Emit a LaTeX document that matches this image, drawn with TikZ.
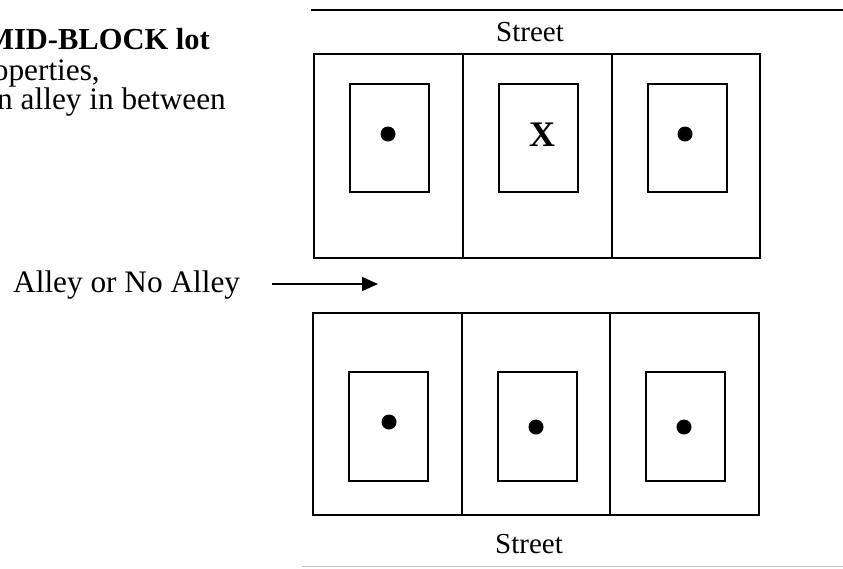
\documentclass[tikz,border=0pt]{standalone}
\usepackage{fontspec}
\setmainfont{Liberation Serif}
\usetikzlibrary{arrows.meta}
\begin{document}
\begin{tikzpicture}[x=1pt,y=-1pt,
  lot/.style={draw=black,line width=1.8pt},
  house/.style={draw=black,line width=1.5pt},
  pin/.style={fill=black},
  big/.style={font=\fontsize{31.3}{36}\selectfont},
  street/.style={font=\fontsize{29}{34}\selectfont}]
\useasboundingbox (0,0) rectangle (843,568);
% side text
\node[anchor=base east,font=\fontsize{30.5}{36}\selectfont\bfseries,inner sep=0] (t1) at (210,49) {MID-BLOCK lot};
\node[big,anchor=base east,inner sep=0] (t2) at (100,80) {properties,};
\node[big,anchor=base east,inner sep=0] (t3) at (226,109) {an alley in between};
% streets
\draw[line width=1.8pt] (311,10) -- (843,10);
\node[street,anchor=base,inner sep=0] (s1) at (530,41) {Street};
\draw[line width=1.2pt,draw=black!25] (302,566.5) -- (843,566.5);
\node[street,anchor=base,inner sep=0] (s2) at (529,553) {Street};
% top block
\draw[lot] (314,54) rectangle (463,258);
\draw[lot] (463,54) rectangle (612,258);
\draw[lot] (612,54) rectangle (760,258);
\draw[house] (350,84) rectangle (429,192);
\draw[house] (499,84) rectangle (578,192);
\draw[house] (648,84) rectangle (727,192);
\fill[pin] (388,134) circle (7.5);
\node[font=\fontsize{36}{40}\selectfont\bfseries,anchor=base,inner sep=0] (x) at (542,146) {X};
\fill[pin] (685,134) circle (7.5);
% bottom block
\draw[lot] (313,313) rectangle (462,515);
\draw[lot] (462,313) rectangle (610,515);
\draw[lot] (610,313) rectangle (759,515);
\draw[house] (349,372) rectangle (428,481);
\draw[house] (498,372) rectangle (577,481);
\draw[house] (646,372) rectangle (725,481);
\fill[pin] (389,422) circle (7.5);
\fill[pin] (536,427) circle (7.5);
\fill[pin] (684,427) circle (7.5);
% alley
\node[big,anchor=base west,inner sep=0] (al) at (13,292) {Alley or No Alley};
\coordinate (a1) at (272,284);
\coordinate (a2) at (378,284);
\draw[line width=1.5pt,-{Triangle[length=16pt,width=14pt]}] (a1) -- (a2);
\end{tikzpicture}
\end{document}
